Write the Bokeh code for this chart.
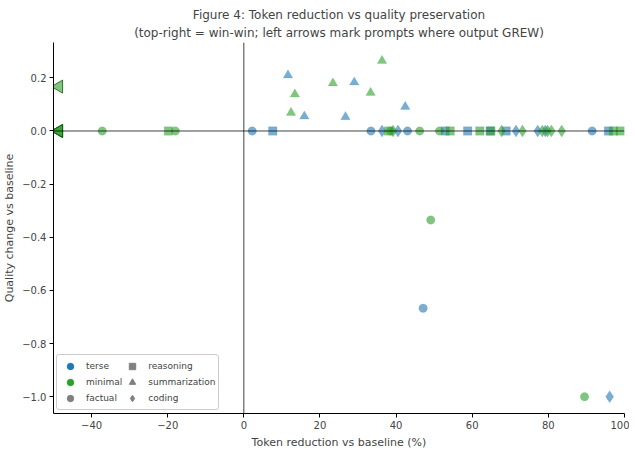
import numpy as np
from bokeh.plotting import figure
from bokeh.models import Span, FixedTicker, Legend, LegendItem, Range1d, Title
from bokeh.embed import file_html
from bokeh.resources import INLINE

# ---- data ----
terse_factual_x = [2.2, 33.4, 43.0, 91.5, 47.1]
terse_factual_y = [0.0, 0.0, 0.0, 0.0, -0.667]
terse_reasoning_x = [7.6, 52.9, 58.8, 64.7, 68.9, 95.8]
terse_reasoning_y = [0.0, 0.0, 0.0, 0.0, 0.0, 0.0]
terse_summ_x = [11.6, 15.9, 26.7, 29.0, 42.4]
terse_summ_y = [0.21, 0.055, 0.053, 0.183, 0.091]
terse_coding_x = [36.3, 40.5, 71.5, 77.2, 79.2, 96.1]
terse_coding_y = [0.0, 0.0, 0.0, 0.0, 0.0, -1.0]

minimal_factual_x = [-37.2, -18.0, 38.5, 46.2, 51.4, 49.1, 89.5]
minimal_factual_y = [0.0, 0.0, 0.0, 0.0, 0.0, -0.335, -1.0]
minimal_reasoning_x = [-19.8, 38.0, 54.2, 62.0, 64.9, 97.1, 98.9]
minimal_reasoning_y = [0.0, 0.0, 0.0, 0.0, 0.0, 0.0, 0.0]
minimal_summ_x = [12.4, 13.4, 23.4, 33.3, 36.3]
minimal_summ_y = [0.069, 0.138, 0.18, 0.144, 0.264]
minimal_coding_x = [39.2, 67.7, 73.2, 78.4, 79.8, 80.8, 83.5]
minimal_coding_y = [0.0, 0.0, 0.0, 0.0, 0.0, 0.0, 0.0]

# prompts where output grew (clipped at left edge)
grew_x = [-48.6, -48.6, -48.6, -48.6]
grew_y = [0.167, 0.0, 0.0, 0.0]

x_ticks = [-40, -20, 0, 20, 40, 60, 80, 100]
y_ticks = [-1.0, -0.8, -0.6, -0.4, -0.2, 0.0, 0.2]

title_line1 = "Figure 4: Token reduction vs quality preservation"
title_line2 = "(top-right = win-win; left arrows mark prompts where output GREW)"

BLUE = "#1f77b4"
GREEN = "#2ca02c"
GREY = "#808080"
FONT = "DejaVu Sans"

p = figure(frame_width=571, frame_height=371, output_backend="svg", toolbar_location=None,
           x_range=Range1d(-50, 100), y_range=Range1d(-1.063, 0.333),
           min_border_left=51, min_border_top=0, min_border_right=5, min_border_bottom=10)
p.title.visible = False

t2 = Title(text=title_line2, align="center", text_font=FONT, text_font_size="12px",
           text_font_style="normal", standoff=5)
t1 = Title(text=title_line1, align="center", text_font=FONT, text_font_size="12px",
           text_font_style="normal", standoff=0)
spacer = Title(text=" ", align="center", text_font=FONT, text_font_size="3px", standoff=0)
p.add_layout(t2, "above")
p.add_layout(t1, "above")
p.add_layout(spacer, "above")

p.xgrid.visible = False
p.ygrid.visible = False
p.outline_line_color = None

for ax in (p.xaxis, p.yaxis):
    ax.minor_tick_line_color = None
    ax.major_tick_in = 0
    ax.major_tick_out = 4
    ax.major_label_text_font = FONT
    ax.major_label_text_font_size = "10px"
    ax.major_label_standoff = 3
    ax.axis_label_text_font = FONT
    ax.axis_label_text_font_size = "11px"
    ax.axis_label_text_font_style = "normal"
    ax.axis_line_color = "black"

p.xaxis.ticker = FixedTicker(ticks=x_ticks)
p.yaxis.ticker = FixedTicker(ticks=y_ticks)
p.xaxis.major_label_overrides = {t: (str(t).replace("-", "\u2212")) for t in x_ticks}
p.yaxis.major_label_overrides = {t: ("%.1f" % t).replace("-", "\u2212") for t in y_ticks}
p.xaxis.axis_label = "Token reduction vs baseline (%)"
p.yaxis.axis_label = "Quality change vs baseline"
p.xaxis.axis_label_standoff = 4
p.yaxis.axis_label_standoff = 3

p.add_layout(Span(location=0, dimension="width", line_color="black", line_width=1, line_alpha=0.75))
p.add_layout(Span(location=0, dimension="height", line_color="black", line_width=1, line_alpha=0.75))

markers = {"factual": ("circle", 8.5), "reasoning": ("square", 8.5), "summarization": ("triangle", 9.5), "coding": ("diamond", 12)}

groups = [
    (terse_factual_x, terse_factual_y, BLUE, "factual"),
    (terse_reasoning_x, terse_reasoning_y, BLUE, "reasoning"),
    (terse_summ_x, terse_summ_y, BLUE, "summarization"),
    (terse_coding_x, terse_coding_y, BLUE, "coding"),
    (minimal_factual_x, minimal_factual_y, GREEN, "factual"),
    (minimal_reasoning_x, minimal_reasoning_y, GREEN, "reasoning"),
    (minimal_summ_x, minimal_summ_y, GREEN, "summarization"),
    (minimal_coding_x, minimal_coding_y, GREEN, "coding"),
]
for xs, ys, col, task in groups:
    mk, sz = markers[task]
    p.scatter(xs, ys, marker=mk, size=sz, fill_color=col, fill_alpha=0.6,
              line_color=col, line_alpha=0.3, line_width=0.5)

p.scatter(grew_x, grew_y, marker="triangle", angle=np.pi / 2, size=13,
          fill_color=GREEN, fill_alpha=0.6, line_color="#0b5a0b", line_alpha=0.8, line_width=1)

# legend proxies (placed outside the visible range)
def proxy(mk, col, sz):
    return p.scatter([-1000], [-1000], marker=mk, size=sz, fill_color=col, line_color=col)

items = [
    LegendItem(label="terse", renderers=[proxy("circle", BLUE, 9)]),
    LegendItem(label="minimal", renderers=[proxy("circle", GREEN, 9)]),
    LegendItem(label="factual", renderers=[proxy("circle", GREY, 9)]),
    LegendItem(label="reasoning", renderers=[proxy("square", GREY, 9)]),
    LegendItem(label="summarization", renderers=[proxy("triangle", GREY, 10)]),
    LegendItem(label="coding", renderers=[proxy("diamond", GREY, 13)]),
]
legend = Legend(items=items, location="bottom_left", nrows=3,
                label_text_font=FONT, label_text_font_size="9px",
                glyph_width=20, glyph_height=16, label_height=14, spacing=0,
                padding=3, margin=3, label_standoff=6, border_line_color="#cccccc",
                border_line_alpha=1, background_fill_alpha=0.9, border_radius=3)
p.add_layout(legend)

open("out.html", "w").write(file_html(p, INLINE))
